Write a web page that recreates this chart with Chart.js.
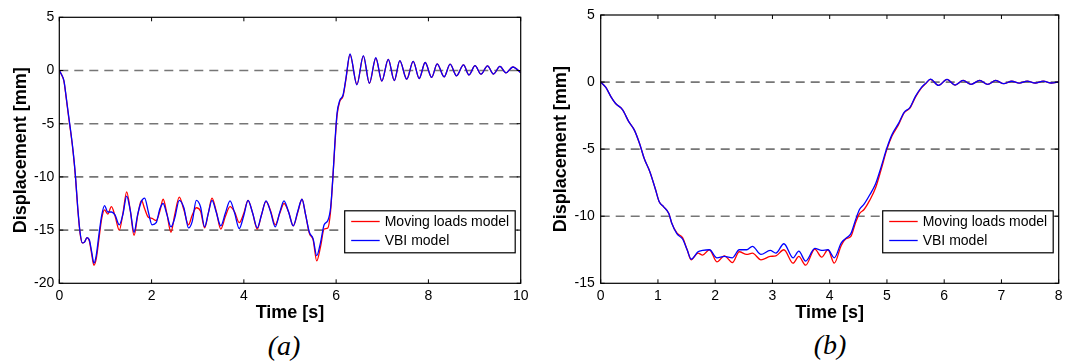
<!DOCTYPE html>
<html>
<head>
<meta charset="utf-8">
<script src="https://cdn.jsdelivr.net/npm/chart.js@4.4.1/dist/chart.umd.min.js"></script>
<style>
  body { margin: 0; background: #fff; }
  #wrap { position: relative; width: 1083px; height: 363px; overflow: hidden; background: #fff; }
  canvas { position: absolute; top: 0; }
  .cap { position: absolute; transform: translate(-50%, -50%); font: italic 28px "Liberation Serif", "Times New Roman", serif; color: #000; white-space: nowrap; }
</style>
</head>
<body>
<div id="wrap">
  <canvas id="chart_a" width="540" height="324" style="left:0"></canvas>
  <canvas id="chart_b" width="543" height="324" style="left:540px"></canvas>
  <div class="cap" style="left:284px; top:346px">(a)</div>
  <div class="cap" style="left:830px; top:345px">(b)</div>
</div>
<script>
const seriesNames = ['Moving loads model', 'VBI model'];
const seriesColors = ['rgb(255, 0, 0)', 'rgb(0, 0, 255)'];

// (a) time [s] and displacement [mm]
const timesA = [0, 0.05, 0.1, 0.15, 0.2, 0.25, 0.3, 0.35, 0.4, 0.45, 0.5, 0.55, 0.6, 0.65, 0.7, 0.75, 0.8, 0.86, 0.92, 0.98,
  1.05, 1.13, 1.21, 1.3, 1.38, 1.46, 1.54, 1.62, 1.7, 1.78, 1.85, 1.93, 2.01, 2.1, 2.18, 2.25, 2.33, 2.42, 2.5, 2.6,
  2.7, 2.8, 2.88, 2.97, 3.06, 3.15, 3.23, 3.31, 3.4, 3.5, 3.6, 3.7, 3.8, 3.9, 4.0, 4.09, 4.19, 4.29, 4.38, 4.48,
  4.58, 4.68, 4.78, 4.87, 4.97, 5.07, 5.17, 5.26, 5.34, 5.42, 5.5, 5.58, 5.66, 5.74, 5.82, 5.88, 5.93, 5.97, 6.02, 6.08,
  6.15, 6.21, 6.3, 6.45, 6.59, 6.72, 6.86, 6.99, 7.13, 7.26, 7.38, 7.53, 7.67, 7.8, 7.93, 8.07, 8.19, 8.34, 8.47, 8.61,
  8.76, 8.88, 9.01, 9.14, 9.28, 9.41, 9.55, 9.68, 9.83, 10.0];
const movingA = [0, -0.4, -1.0, -2.6, -4.3, -5.9, -7.7, -10.0, -13.0, -15.3, -16.2, -16.1, -15.7, -16.0, -17.2, -18.3, -17.7, -15.8, -13.9, -13.1,
  -13.5, -12.8, -13.7, -15.0, -13.4, -11.4, -13.2, -15.5, -13.6, -12.2, -13.0, -13.8, -13.9, -14.1, -13.2, -12.1, -13.4, -15.2, -13.6, -11.9,
  -13.1, -14.5, -13.6, -12.9, -13.2, -14.8, -13.4, -12.0, -13.2, -14.9, -13.7, -12.8, -13.3, -14.3, -13.4, -12.2, -13.4, -14.9, -13.6, -12.3,
  -13.2, -14.5, -13.4, -12.5, -13.3, -14.6, -13.3, -12.1, -13.6, -15.3, -15.9, -17.9, -16.6, -14.9, -14.8, -13.2, -10.0, -7.2, -4.2, -2.9,
  -2.4, -0.9, 1.5, -1.3, 1.35, -1.2, 1.15, -1.0, 1.05, -0.95, 0.9, -0.8, 0.85, -0.75, 0.75, -0.65, 0.63, -0.6, 0.6, -0.5,
  0.53, -0.42, 0.45, -0.35, 0.43, -0.33, 0.38, -0.22, 0.33, -0.2];
const vbiA = [0, -0.4, -0.95, -2.5, -4.2, -5.8, -7.6, -9.9, -12.9, -15.2, -16.2, -16.1, -15.7, -15.9, -17.0, -18.1, -17.4, -15.4, -13.6, -12.7,
  -13.3, -13.3, -13.6, -14.5, -13.5, -11.8, -13.2, -15.2, -13.5, -12.3, -12.0, -13.3, -14.5, -14.3, -13.0, -12.5, -13.5, -14.7, -13.9, -12.2,
  -12.9, -14.8, -14.2, -12.2, -12.8, -14.7, -13.4, -12.2, -13.3, -14.6, -13.4, -12.25, -13.4, -14.85, -13.6, -12.2, -13.4, -14.8, -13.6, -12.25,
  -13.3, -14.7, -13.3, -12.25, -13.3, -14.6, -13.2, -12.1, -13.6, -15.2, -15.8, -17.4, -16.2, -14.5, -14.1, -12.9, -10.0, -7.0, -4.0, -2.8,
  -2.3, -0.8, 1.55, -1.35, 1.4, -1.2, 1.2, -1.0, 1.05, -0.95, 0.92, -0.82, 0.85, -0.75, 0.75, -0.65, 0.63, -0.6, 0.6, -0.5,
  0.53, -0.42, 0.45, -0.35, 0.43, -0.33, 0.38, -0.22, 0.33, -0.2];

// (b) time [s] and displacement [mm]
const timesB = [0, 0.09, 0.18, 0.26, 0.38, 0.49, 0.59, 0.68, 0.76, 0.86, 0.96, 1.02, 1.1, 1.19, 1.24, 1.33, 1.43, 1.51, 1.58, 1.7,
  1.78, 1.9, 2.03, 2.16, 2.3, 2.42, 2.55, 2.65, 2.8, 2.96, 3.06, 3.2, 3.36, 3.46, 3.58, 3.74, 3.86, 3.97, 4.08, 4.2,
  4.28, 4.37, 4.45, 4.52, 4.6, 4.7, 4.8, 4.9, 5.0, 5.09, 5.2, 5.3, 5.4, 5.5, 5.6, 5.68, 5.76, 5.9, 6.05, 6.19,
  6.33, 6.47, 6.62, 6.76, 6.9, 7.04, 7.18, 7.31, 7.45, 7.59, 7.73, 7.87, 8.0];
const movingB = [0, -0.4, -1.1, -1.6, -2.05, -2.95, -3.6, -4.6, -5.7, -6.7, -8.05, -8.9, -9.3, -9.8, -10.5, -11.25, -11.6, -12.5, -13.25, -12.75,
  -12.9, -12.5, -13.4, -12.95, -13.45, -12.65, -12.85, -12.75, -13.25, -13.0, -12.95, -12.5, -13.5, -13.0, -13.65, -12.45, -13.05, -12.5, -13.5, -12.2,
  -11.7, -11.5, -10.5, -9.8, -9.5, -8.8, -7.9, -6.5, -5.0, -4.0, -3.2, -2.3, -1.95, -1.1, -0.45, -0.1, 0.2, -0.25, 0.2, -0.22,
  0.12, -0.17, 0.12, -0.17, 0.12, -0.12, 0.06, -0.08, 0.07, -0.07, 0.07, -0.07, 0.02];
const vbiB = [0, -0.4, -1.1, -1.6, -2.05, -2.95, -3.6, -4.6, -5.7, -6.7, -8.05, -8.9, -9.3, -9.8, -10.5, -11.3, -11.7, -12.5, -13.2, -12.65,
  -12.55, -12.5, -13.1, -13.0, -13.1, -12.5, -12.5, -12.25, -12.85, -12.55, -12.75, -12.05, -13.1, -12.6, -13.35, -12.4, -12.55, -12.5, -13.1, -12.0,
  -11.65, -11.3, -10.3, -9.5, -9.1, -8.4, -7.6, -6.3, -4.9, -3.9, -3.1, -2.25, -1.9, -1.05, -0.42, -0.08, 0.22, -0.25, 0.2, -0.22,
  0.12, -0.17, 0.12, -0.17, 0.12, -0.12, 0.06, -0.08, 0.07, -0.07, 0.07, -0.07, 0.02];

Chart.defaults.color = '#000';
Chart.defaults.font.family = '"Liberation Sans", Arial, Helvetica, sans-serif';

// dashed grid, black box with inward ticks, boxed legend
const matlabLook = {
  id: 'matlabLook',
  beforeDatasetsDraw(chart) {
    const {ctx, chartArea: a, scales: {y}} = chart;
    ctx.save();
    ctx.strokeStyle = 'rgb(118, 118, 118)';
    ctx.lineWidth = 1.6;
    ctx.setLineDash([9, 6]);
    y.ticks.forEach(t => {
      if (t.value <= y.min || t.value >= y.max) return;
      const py = y.getPixelForValue(t.value);
      ctx.beginPath();
      ctx.moveTo(a.left, py);
      ctx.lineTo(a.right, py);
      ctx.stroke();
    });
    ctx.restore();
  },
  afterDatasetsDraw(chart) {
    const {ctx, chartArea: a, scales: {x, y}} = chart;
    const names = chart.data.datasets.map(d => d.label);
    const colors = chart.data.datasets.map(d => d.borderColor);

    // legend
    ctx.save();
    ctx.font = '14px "Liberation Sans", Arial, sans-serif';
    const textW = Math.max(...names.map(n => ctx.measureText(n).width));
    const w = textW + 46, h = 42;
    const bx = a.right - 5.5 - w, by = a.bottom - 30.5 - h;
    ctx.fillStyle = '#fff';
    ctx.fillRect(bx, by, w, h);
    ctx.strokeStyle = '#000';
    ctx.lineWidth = 1.2;
    ctx.strokeRect(bx, by, w, h);
    names.forEach((n, i) => {
      const ly = by + 10.7 + i * 19;
      ctx.strokeStyle = colors[i];
      ctx.lineWidth = 1.3;
      ctx.beginPath();
      ctx.moveTo(bx + 6.5, ly);
      ctx.lineTo(bx + 35, ly);
      ctx.stroke();
      ctx.fillStyle = '#000';
      ctx.textBaseline = 'middle';
      ctx.fillText(n, bx + 40, ly + 0.5);
    });

    // box and inward ticks
    ctx.strokeStyle = '#000';
    ctx.lineWidth = 1.2;
    ctx.strokeRect(a.left, a.top, a.right - a.left, a.bottom - a.top);
    ctx.lineWidth = 1;
    ctx.beginPath();
    x.ticks.forEach(t => {
      const px = x.getPixelForValue(t.value);
      ctx.moveTo(px, a.bottom); ctx.lineTo(px, a.bottom - 4);
      ctx.moveTo(px, a.top); ctx.lineTo(px, a.top + 4);
    });
    y.ticks.forEach(t => {
      const py = y.getPixelForValue(t.value);
      ctx.moveTo(a.left, py); ctx.lineTo(a.left + 4, py);
      ctx.moveTo(a.right, py); ctx.lineTo(a.right - 4, py);
    });
    ctx.stroke();
    ctx.restore();
  }
};

function createPlot(canvasId, times, moving, vbi, yMin, yMax, xMax, xStep, box) {
  const canvas = document.getElementById(canvasId);
  const datasets = [moving, vbi].map((vals, i) => ({
    label: seriesNames[i],
    data: times.map((t, k) => ({x: t, y: vals[k]})),
    borderColor: seriesColors[i],
    borderWidth: 1.3,
    pointRadius: 0,
    cubicInterpolationMode: 'monotone',
    order: 1 - i
  }));

  return new Chart(canvas, {
    type: 'line',
    data: {datasets},
    options: {
      responsive: false,
      animation: false,
      devicePixelRatio: 1,
      layout: {padding: {top: box.top, right: box.right, left: 0, bottom: 0}},
      plugins: {legend: {display: false}, tooltip: {enabled: false}},
      scales: {
        x: {
          type: 'linear', min: 0, max: xMax,
          grid: {display: false, drawTicks: false}, border: {display: false},
          ticks: {stepSize: xStep, padding: 4, font: {size: 14}, maxRotation: 0, autoSkip: false},
          title: {display: true, text: 'Time [s]', font: {size: 18, weight: 'bold'}, padding: 0},
          afterFit(s) { s.height = canvas.height - box.bottom; }
        },
        y: {
          type: 'linear', min: yMin, max: yMax,
          grid: {display: false, drawTicks: false}, border: {display: false},
          ticks: {stepSize: 5, padding: box.tickPad, font: {size: 14}},
          title: {display: true, text: 'Displacement [mm]', font: {size: 18, weight: 'bold'}, padding: {top: 10, bottom: 0}},
          afterFit(s) { s.width = box.left; }
        }
      }
    },
    plugins: [matlabLook]
  });
}

createPlot('chart_a', timesA, movingA, vbiA, -20, 5, 10, 2,
  {top: 17.3, right: 19.3, left: 59.3, bottom: 283.3, tickPad: 5});
createPlot('chart_b', timesB, movingB, vbiB, -15, 5, 8, 1,
  {top: 15, right: 24.3, left: 60.7, bottom: 283.3, tickPad: 6});
</script>
</body>
</html>
